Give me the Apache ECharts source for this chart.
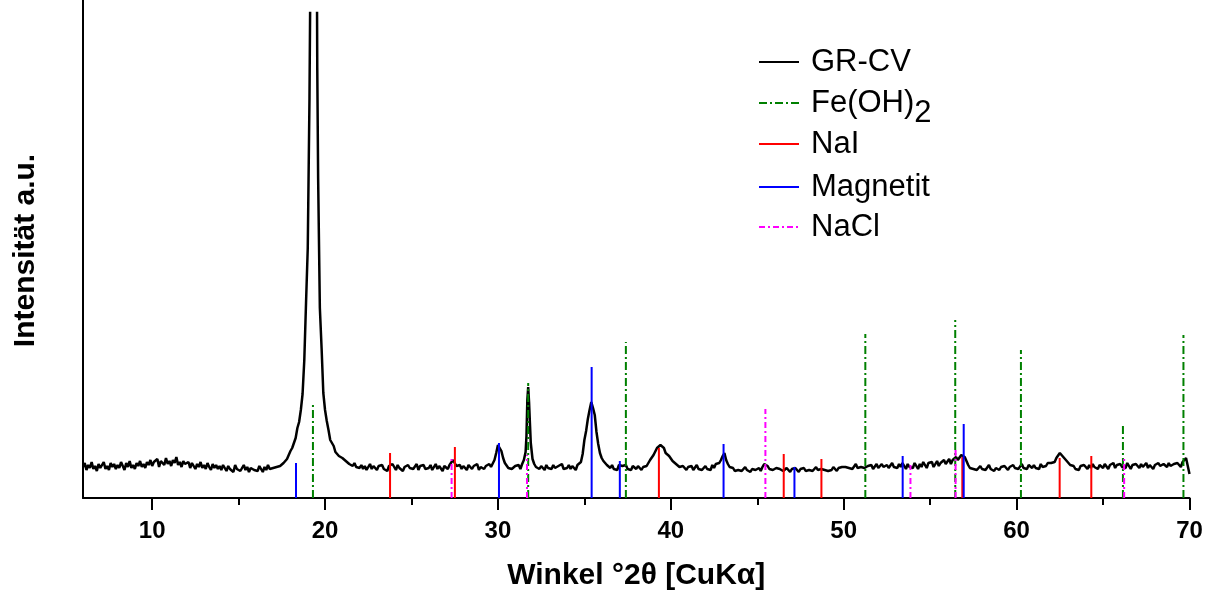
<!DOCTYPE html>
<html>
<head>
<meta charset="utf-8">
<script src="https://cdn.jsdelivr.net/npm/echarts@6.0.0/dist/echarts.min.js"></script>
<style>
  html, body { margin: 0; padding: 0; background: #ffffff; }
  #chart { width: 1209px; height: 595px; }
</style>
</head>
<body>
<div id="chart"></div>
<script>
// GR-CV diffractogram, sampled every 0.1 °2θ from 6 to 70
const angleStart = 6;
const angleStep = 0.1;
const grcvIntensity = [
  31,35,28,33,30,36,29,32,27,34,   // 6
  30,33,36,29,32,28,35,31,34,29,   // 7
  33,30,36,32,28,35,31,37,30,33,   // 8
  29,35,32,37,31,34,30,36,33,38,   // 9
  32,36,34,39,31,37,35,33,40,34,   // 10
  37,32,38,35,41,33,36,31,37,34,   // 11
  32,36,30,35,33,29,34,31,36,30,   // 12
  33,29,35,31,28,34,30,33,29,32,   // 13
  28,33,30,27,32,29,31,26,33,29,   // 14
  31,27,30,33,28,31,26,30,32,28,   // 15
  30,27,32,29,26,31,28,33,29,27,   // 16
  30,28,31,29,32,33,35,37,39,43,   // 17
  47,50,55,60,70,76,88,104,138,195,   // 18
  250,400,900,1900,1900,650,320,190,150,105,   // 19
  88,77,68,58,57,52,46,47,42,44,   // 20
  40,42,37,39,34,36,32,35,31,33,   // 21
  30,33,29,32,28,31,34,29,32,30,   // 22
  28,32,30,33,29,31,27,32,30,34,   // 23
  31,28,33,30,32,27,31,29,33,30,   // 24
  32,29,31,34,28,32,30,33,29,31,   // 25
  30,33,28,31,34,29,32,30,27,32,   // 26
  31,29,33,35,38,36,32,30,33,29,   // 27
  32,30,28,33,31,29,32,30,34,28,   // 28
  31,33,29,32,30,34,31,33,38,45,   // 29
  53,55,47,40,35,33,30,32,29,31,   // 30
  32,30,33,29,34,38,46,98,96,55,   // 31
  39,34,31,33,29,32,30,28,33,30,   // 32
  31,29,33,30,28,32,30,34,29,31,   // 33
  30,33,29,32,31,28,33,31,36,44,   // 34
  58,67,79,88,96,90,83,66,54,45,   // 35
  40,37,35,33,32,30,33,29,31,28,   // 36
  33,35,32,30,33,29,31,28,32,30,   // 37
  29,32,30,28,31,33,32,35,38,40,   // 38
  43,45,50,49,53,51,50,45,45,42,   // 39
  40,37,36,34,32,31,29,32,30,28,   // 40
  31,29,32,28,30,33,29,31,28,30,   // 41
  32,29,31,28,33,30,34,32,35,38,   // 42
  42,45,38,34,31,29,30,27,29,28,   // 43
  30,27,29,31,28,30,26,29,31,28,   // 44
  29,30,27,31,34,35,32,29,30,28,   // 45
  27,30,28,29,31,27,29,30,28,26,   // 46
  29,27,30,28,26,29,28,30,27,29,   // 47
  28,30,27,29,31,28,26,29,30,28,   // 48
  30,27,29,28,31,29,27,30,28,31,   // 49
  29,31,33,30,32,29,31,34,30,32,   // 50
  31,33,30,28,32,30,33,29,31,34,   // 51
  30,32,34,31,29,33,30,32,35,31,   // 52
  33,30,34,31,35,32,29,34,31,33,   // 53
  30,35,32,29,34,31,36,33,30,35,   // 54
  33,36,31,34,37,32,35,33,38,34,   // 55
  36,39,34,38,37,41,38,40,43,45,   // 56
  41,37,33,30,32,29,31,28,30,32,   // 57
  29,31,28,30,33,29,31,27,30,32,   // 58
  28,31,29,32,30,28,31,29,33,30,   // 59
  32,29,31,34,30,32,29,33,31,30,   // 60
  33,30,32,29,34,31,33,32,35,34,   // 61
  35,37,36,40,42,45,46,41,39,37,   // 62
  35,33,31,32,29,31,28,32,30,33,   // 63
  31,29,33,30,34,31,32,29,33,31,   // 64
  30,34,32,29,33,31,35,30,33,32,   // 65
  34,31,33,30,35,32,29,33,31,34,   // 66
  32,30,34,31,33,35,30,33,32,29,   // 67
  33,31,35,32,30,34,33,31,35,32,   // 68
  30,34,32,35,33,31,36,34,40,42,   // 69
  24                               // 70
];
// extra readings across the two sharpest reflections
const grcvPeakDetail = [
  [19.15, 520], [19.25, 1300], [19.35, 2100], [19.45, 1200], [19.55, 430],
  [31.65, 62], [31.75, 111], [31.85, 75]
];

// reference patterns: line positions (°2θ) and stick heights
const feoh2Pos = [19.3, 31.75, 37.4, 51.25, 56.45, 60.25, 66.15, 69.65];
const feoh2Int = [96, 115, 156, 164, 178, 148, 74, 163];
const naiPos = [23.76, 27.51, 39.31, 46.53, 48.71, 56.86, 62.49, 64.32];
const naiInt = [45, 51, 50, 44, 39, 41, 40, 42];
const magnetitPos = [18.32, 30.06, 35.42, 37.05, 43.05, 47.15, 53.41, 56.94];
const magnetitInt = [35, 55, 131, 37, 54, 31, 42, 74];
const naclPos = [27.32, 31.68, 45.47, 53.86, 56.47, 66.22];
const naclInt = [39, 43, 89, 33, 49, 39];

const legendNames = ['GR-CV', 'Fe(OH)2', 'NaI', 'Magnetit', 'NaCl'];
const majorTicks = [10, 20, 30, 40, 50, 60, 70];
const minorTicks = [15, 25, 35, 45, 55, 65];

const FONT = "'Liberation Sans', Arial, sans-serif";

const grcvData = grcvIntensity
  .map((v, i) => [+(angleStart + i * angleStep).toFixed(2), v])
  .concat(grcvPeakDetail)
  .sort((a, b) => a[0] - b[0]);

// each stick runs from the baseline up to its height; '-' breaks the line
function sticks(pos, inten) {
  const out = [];
  pos.forEach((p, i) => {
    out.push([p, 0], [p, inten[i]], [p, '-']);
  });
  return out;
}

function stickSeries(name, color, dash, pos, inten) {
  return {
    name: name,
    type: 'line',
    data: sticks(pos, inten),
    symbol: 'none',
    showSymbol: false,
    connectNulls: false,
    animation: false,
    lineStyle: { color: color, width: 2, type: dash },
    itemStyle: { color: color },
    emphasis: { disabled: true }
  };
}

// one legend block per entry, stacked down the upper right
const legendRowTop = [42, 83, 124, 167, 207];
const legends = legendNames.map((name, i) => ({
  orient: 'vertical',
  left: 758,
  top: legendRowTop[i],
  padding: 0,
  itemWidth: 40,
  itemHeight: 2,
  selectedMode: false,
  itemStyle: { opacity: 0 },
  data: [name],
  formatter: function (n) {
    return n === 'Fe(OH)2' ? 'Fe(OH){sub|2}' : n;
  },
  textStyle: {
    fontFamily: FONT,
    fontSize: 31,
    color: '#000',
    lineHeight: 40,
    padding: [0, 0, 0, 7],
    rich: {
      // subscript: lowered inside the same 40px line
      sub: { fontFamily: FONT, fontSize: 31, color: '#000', height: 20, lineHeight: 40, padding: [20, 0, 0, 0] }
    }
  }
}));

const chart = echarts.init(document.getElementById('chart'), null, { renderer: 'canvas' });

const plotLeft = 83, plotRight = 19.5, plotBottom = 97;

chart.setOption({
  backgroundColor: '#ffffff',
  animation: false,
  grid: [
    { left: plotLeft, right: plotRight, top: 13, bottom: plotBottom, containLabel: false, outerBoundsMode: 'none' },
    // frame for the intensity axis line, which runs to the top edge
    { left: plotLeft, right: plotRight, top: 0, bottom: plotBottom, containLabel: false, outerBoundsMode: 'none' }
  ],
  legend: legends,
  xAxis: [
    {
      type: 'value',
      gridIndex: 0,
      min: 6,
      max: 70,
      name: 'Winkel °2θ [CuKα]',
      nameLocation: 'middle',
      nameGap: 63,
      nameTextStyle: { fontFamily: FONT, fontSize: 30, fontWeight: 'bold', color: '#000' },
      axisLine: { show: true, onZero: false, lineStyle: { color: '#000', width: 2 } },
      axisTick: { show: true, inside: false, length: 12, customValues: majorTicks, lineStyle: { color: '#000', width: 2 } },
      axisLabel: { show: true, customValues: majorTicks, margin: 21, fontFamily: FONT, fontSize: 24, fontWeight: 'bold', color: '#000' },
      splitLine: { show: false }
    },
    {
      type: 'value',
      gridIndex: 0,
      min: 6,
      max: 70,
      position: 'bottom',
      axisLine: { show: false },
      axisTick: { show: true, inside: false, length: 7, customValues: minorTicks, lineStyle: { color: '#000', width: 2 } },
      axisLabel: { show: false },
      splitLine: { show: false }
    },
    {
      type: 'value',
      gridIndex: 1,
      min: 6,
      max: 70,
      show: false
    }
  ],
  yAxis: [
    {
      type: 'value',
      gridIndex: 0,
      min: 0,
      max: 485,
      name: 'Intensität a.u.',
      nameLocation: 'middle',
      nameGap: 42,
      nameTextStyle: { fontFamily: FONT, fontSize: 30, fontWeight: 'bold', color: '#000', padding: [0, 0, 0, 10] },
      axisLine: { show: false },
      axisTick: { show: false },
      axisLabel: { show: false },
      splitLine: { show: false }
    },
    {
      type: 'value',
      gridIndex: 1,
      min: 0,
      max: 498,
      axisLine: { show: true, lineStyle: { color: '#000', width: 2 } },
      axisTick: { show: false },
      axisLabel: { show: false },
      splitLine: { show: false }
    }
  ],
  series: [
    {
      name: 'GR-CV',
      type: 'line',
      data: grcvData,
      symbol: 'none',
      showSymbol: false,
      animation: false,
      lineStyle: { color: '#000', width: 2.5 },
      itemStyle: { color: '#000' },
      emphasis: { disabled: true }
    },
    stickSeries('Fe(OH)2', '#008000', [8, 3, 2, 3], feoh2Pos, feoh2Int),
    stickSeries('NaI', '#ff0000', 'solid', naiPos, naiInt),
    stickSeries('Magnetit', '#0000ff', 'solid', magnetitPos, magnetitInt),
    stickSeries('NaCl', '#ff00ff', [6, 3, 2, 3], naclPos, naclInt)
  ]
});
</script>
</body>
</html>
